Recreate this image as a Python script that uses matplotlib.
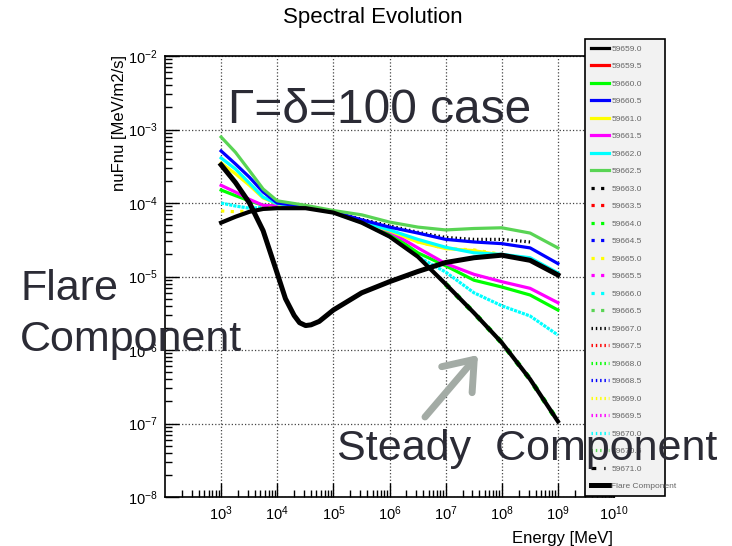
import numpy as np
import matplotlib
matplotlib.use("Agg")
import matplotlib.pyplot as plt
from matplotlib.lines import Line2D
from matplotlib.ticker import LogLocator, NullFormatter

plt.rcParams['font.family'] = ['Liberation Sans', 'DejaVu Sans']
plt.rcParams['mathtext.default'] = 'regular'

# energy grid shared by the time slices (MeV)
energy = [1e3, 1.8e3, 3.2e3, 5.6e3, 1e4, 3.2e4, 1e5, 3.2e5, 1e6, 3.2e6, 1e7, 3.2e7, 1e8, 3.2e8, 1e9]

# nuFnu of the visible time slices (MeV/m2/s)
f_59659_0 = [5.4e-5, 6.5e-5, 7.6e-5, 8.3e-5, 8.5e-5, 8.5e-5, 7.4e-5, 5.4e-5, 3.5e-5, 1.86e-5, 7.9e-6, 3.2e-6, 1.26e-6, 4.0e-7, 1.07e-7]
f_59660_0 = [1.5e-4, 1.26e-4, 1.07e-4, 9.3e-5, 9.1e-5, 8.9e-5, 7.6e-5, 5.75e-5, 3.9e-5, 2.1e-5, 1.4e-5, 8.9e-6, 7.2e-6, 5.6e-6, 3.5e-6]
f_59660_5 = [5.1e-4, 3.4e-4, 2.24e-4, 1.41e-4, 1.0e-4, 8.9e-5, 7.6e-5, 5.9e-5, 4.7e-5, 3.9e-5, 3.2e-5, 2.95e-5, 2.8e-5, 2.45e-5, 1.5e-5]
f_59661_0 = [3.5e-4, 2.5e-4, 1.74e-4, 1.17e-4, 9.8e-5, 8.9e-5, 7.6e-5, 5.6e-5, 4.2e-5, 2.95e-5, 2.4e-5, 2.25e-5, 1.95e-5, 1.7e-5, 1.07e-5]
f_59661_5 = [1.74e-4, 1.41e-4, 1.12e-4, 9.3e-5, 9.1e-5, 8.9e-5, 7.6e-5, 5.75e-5, 4.1e-5, 2.45e-5, 1.5e-5, 1.07e-5, 8.5e-6, 6.9e-6, 4.4e-6]
f_59662_0 = [4.1e-4, 2.9e-4, 1.86e-4, 1.2e-4, 9.8e-5, 8.9e-5, 7.6e-5, 5.5e-5, 4.3e-5, 3.2e-5, 2.5e-5, 2.1e-5, 2.0e-5, 1.8e-5, 1.12e-5]
f_59662_5 = [7.9e-4, 4.9e-4, 2.75e-4, 1.55e-4, 1.07e-4, 9.3e-5, 7.9e-5, 6.9e-5, 5.5e-5, 4.7e-5, 4.3e-5, 4.5e-5, 4.6e-5, 3.9e-5, 2.45e-5]
f_59665_0 = [7.8e-5, 7.6e-5, 7.8e-5, 8.3e-5, 8.9e-5, 8.7e-5, 7.4e-5, 5.6e-5, 4.3e-5, 2.95e-5, 2.4e-5, 2.3e-5, 2.0e-5, 1.74e-5, 1.1e-5]
f_59670_0 = [1.0e-4, 9.1e-5, 8.5e-5, 8.7e-5, 8.9e-5, 8.7e-5, 7.4e-5, 5.4e-5, 3.5e-5, 1.86e-5, 1.15e-5, 6.0e-6, 4.0e-6, 2.9e-6, 1.6e-6]

# slices that only show over part of the range
energy_59663_0 = [1e5, 3.2e5, 1e6, 3.2e6, 1e7, 3.2e7, 1e8, 3.2e8]
f_59663_0 = [7.6e-5, 6.0e-5, 4.9e-5, 4.0e-5, 3.4e-5, 3.2e-5, 3.2e-5, 2.95e-5]
energy_59670_5 = [1e7, 3.2e7, 1e8, 3.2e8, 1e9]
f_59670_5 = [7.9e-6, 3.2e-6, 1.26e-6, 4.0e-7, 1.07e-7]

# flare component
energy_flare = [1e3, 1.8e3, 3.2e3, 5.6e3, 1e4, 1.4e4, 2e4, 2.5e4, 3.2e4, 4e4, 5.6e4, 1e5, 3.2e5, 1e6,
                3.2e6, 1e7, 3.2e7, 1e8, 3.2e8, 1e9]
f_flare = [3.3e-4, 1.9e-4, 1.0e-4, 4.2e-5, 1.1e-5, 5.0e-6, 2.95e-6, 2.35e-6, 2.15e-6, 2.2e-6, 2.45e-6, 3.5e-6,
           6.0e-6, 8.5e-6, 1.17e-5, 1.55e-5, 1.8e-5, 1.95e-5, 1.66e-5, 1.05e-5]

# legend entries
dates = ["59659.0", "59659.5", "59660.0", "59660.5", "59661.0", "59661.5", "59662.0", "59662.5",
         "59663.0", "59663.5", "59664.0", "59664.5", "59665.0", "59665.5", "59666.0", "59666.5",
         "59667.0", "59667.5", "59668.0", "59668.5", "59669.0", "59669.5", "59670.0", "59670.5",
         "59671.0"]
palette = ["black", "red", "#00ff00", "blue", "yellow", "magenta", "cyan", "#59d454"]

solid = '-'
squares = (0, (1, 2))
fine = (0, (0.45, 0.9))
dashdot = (0, (1.5, 2.5, 0.4, 2.5))
styles = [solid] * 8 + [squares] * 8 + [fine] * 8 + [dashdot]
line_colors = palette * 3 + ["black"]

fig = plt.figure(figsize=(7.32, 5.46), dpi=100)
ax = fig.add_axes([165 / 732, 1 - 497 / 546, (614 - 165) / 732, (497 - 56) / 546])

lw = 2.3
ax.plot(energy, f_59670_0, color="cyan", lw=lw, ls=(0, (1, 0.3)))
ax.plot(energy, f_59660_0, color="#00ff00", lw=lw)
ax.plot(energy, f_59661_5, color="magenta", lw=lw)
ax.plot(energy, f_59665_0, color="yellow", lw=lw, ls=squares)
ax.plot(energy, f_59661_0, color="yellow", lw=lw)
ax.plot(energy, f_59662_0, color="cyan", lw=lw)
ax.plot(energy_59663_0, f_59663_0, color="black", lw=lw, ls=fine)
ax.plot(energy, f_59660_5, color="blue", lw=lw)
ax.plot(energy, f_59662_5, color="#59d454", lw=lw)
ax.plot(energy_59670_5, f_59670_5, color="#00ff00", lw=3.6, ls=squares)
ax.plot(energy, f_59659_0, color="black", lw=3.0)
ax.plot(energy_flare, f_flare, color="black", lw=3.6)

ax.set_xscale('log')
ax.set_yscale('log')
ax.set_xlim(1e2, 1e10)
ax.set_ylim(1e-8, 1e-2)
ax.set_xticks([1e3, 1e4, 1e5, 1e6, 1e7, 1e8, 1e9, 1e10])
ax.xaxis.set_minor_locator(LogLocator(base=10, subs=np.arange(2, 10), numticks=30))
ax.yaxis.set_minor_locator(LogLocator(base=10, subs=np.arange(2, 10), numticks=30))
ax.xaxis.set_minor_formatter(NullFormatter())
ax.yaxis.set_minor_formatter(NullFormatter())
ax.tick_params(which='major', direction='in', length=10, width=1, labelsize=10.5, pad=5)
ax.tick_params(which='minor', direction='in', length=5, width=1)
ax.grid(True, which='major', ls=':', color='#444444', lw=0.9)
for s in ax.spines.values():
    s.set_linewidth(1.2)

fig.text(373 / 732, 1 - 18 / 546, "Spectral Evolution", ha='center', va='center', fontsize=16)
fig.text(120 / 732, 1 - 55 / 546, "nuFnu [MeV/m2/s]", rotation=90, ha='center', va='top', fontsize=12)
fig.text(613 / 732, 1 - 538 / 546, "Energy [MeV]", ha='right', va='center', fontsize=12)

# legend box on the right
handles = [Line2D([], [], color=c, lw=2.3, ls=s) for c, s in zip(line_colors, styles)]
handles.append(Line2D([], [], color="black", lw=3.6))
labels = dates + ["Flare Component"]
leg = fig.legend(handles, labels, loc='upper left', mode='expand',
                 bbox_to_anchor=(585 / 732, 1 - 491 / 546, 80 / 732, 452 / 546),
                 bbox_transform=fig.transFigure, fontsize=6, labelspacing=1.16,
                 handlelength=2.2, handletextpad=0.25, borderpad=0.7, borderaxespad=0,
                 fancybox=False, framealpha=1, facecolor='#f2f2f2', edgecolor='black')
leg.get_frame().set_linewidth(1.2)
for t in leg.get_texts():
    t.set_color('#666666')

# annotations
ink = '#2b2b35'
fig.text(228 / 732, 1 - 123 / 546, "Γ=δ=100 case", va='baseline', fontsize=34.5, color=ink, zorder=10)
fig.text(20 / 732, 1 - 300 / 546, "Flare", va='baseline', fontsize=31, color=ink, zorder=10)
fig.text(20 / 732, 1 - 351 / 546, "Component", va='baseline', fontsize=31, color=ink, zorder=10)
fig.text(337 / 732, 1 - 460 / 546, "Steady  Component", va='baseline', fontsize=31, color=ink, zorder=10)
ax.annotate('', xy=(478 / 732, 1 - 355 / 546), xytext=(425 / 732, 1 - 417 / 546),
            xycoords='figure fraction', textcoords='figure fraction',
            arrowprops=dict(arrowstyle='->,head_length=0.6,head_width=0.45', color='#a3aba5',
                            lw=5, mutation_scale=32, shrinkA=0, shrinkB=0))

fig.savefig("out.png", dpi=100)
